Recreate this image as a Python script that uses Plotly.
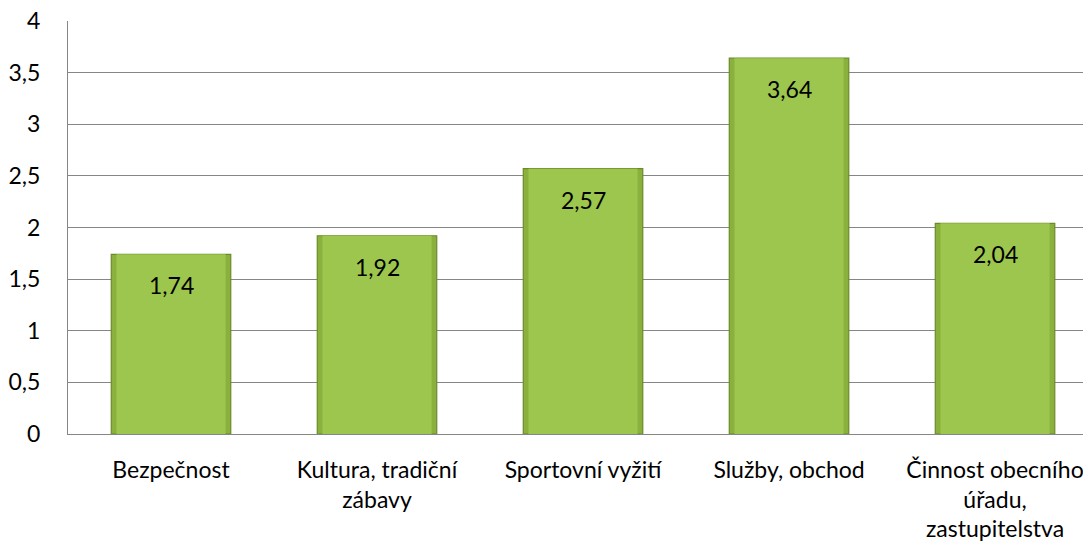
import plotly.graph_objects as go

categories = ["Bezpečnost", "Kultura, tradiční<br>zábavy", "Sportovní vyžití",
              "Služby, obchod", "Činnost obecního<br>úřadu,<br>zastupitelstva"]
values = [1.74, 1.92, 2.57, 3.64, 2.04]
labels = ["1,74", "1,92", "2,57", "3,64", "2,04"]
y_ticks = [0, 0.5, 1, 1.5, 2, 2.5, 3, 3.5, 4]
y_tick_text = ["0", "0,5", "1", "1,5", "2", "2,5", "3", "3,5", "4"]

FONT = "Lato, Carlito, Calibri, sans-serif"
FS = 23
x = list(range(len(categories)))

fig = go.Figure()
fig.add_trace(go.Bar(
    x=x, y=values, width=0.58,
    marker=dict(color="#8ab03e", line=dict(color="#6b8b28", width=1.2)),
    hoverinfo="skip", showlegend=False,
))
fig.add_trace(go.Bar(
    x=x, y=values, width=0.53,
    marker=dict(color="#9cc64d", line=dict(width=0)),
    hoverinfo="skip", showlegend=False,
))

for xi, v, t in zip(x, values, labels):
    fig.add_annotation(x=xi, y=v, text=t, showarrow=False, yanchor="middle",
                       yshift=-31, font=dict(family=FONT, size=FS, color="#000000"))

fig.update_layout(
    width=1083, height=547,
    margin=dict(l=68, r=0, t=21, b=113, autoexpand=False),
    paper_bgcolor="white", plot_bgcolor="white",
    barmode="overlay",
    font=dict(family=FONT, size=FS, color="#000000"),
    xaxis=dict(
        tickmode="array", tickvals=x, ticktext=categories,
        range=[-0.5, 4.427], showgrid=False, zeroline=False, automargin=False,
        showline=True, linecolor="#868686", linewidth=1, ticks="",
        ticklabelstandoff=15, ticklabeloverflow="allow",
        tickfont=dict(family=FONT, size=FS),
    ),
    yaxis=dict(
        range=[0, 4], tickmode="array", tickvals=y_ticks, ticktext=y_tick_text,
        showgrid=True, gridcolor="#868686", gridwidth=1, zeroline=False, automargin=False,
        showline=True, linecolor="#868686", linewidth=1, ticks="",
        ticklabelstandoff=22, ticklabeloverflow="allow",
        tickfont=dict(family=FONT, size=FS),
    ),
)

fig.write_html("out.html", config={"displayModeBar": False},
               post_script="document.body.style.margin='0';document.body.style.overflow='hidden';")
